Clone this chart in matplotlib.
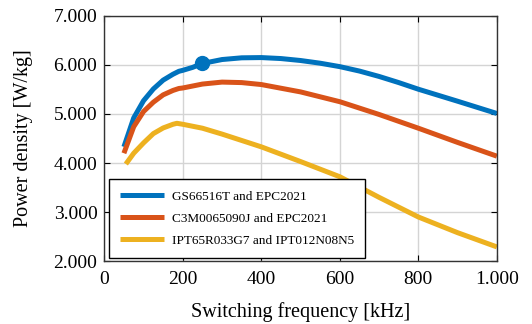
import matplotlib
matplotlib.use('Agg')
import matplotlib.pyplot as plt
from matplotlib.ticker import FuncFormatter

plt.rcParams['font.family'] = ['Liberation Serif', 'DejaVu Serif']
plt.rcParams['mathtext.fontset'] = 'stix'

# values (kHz, W/kg)
freq_gs = [50, 75, 100, 125, 150, 175, 190, 200, 225, 250, 300, 350, 400, 450, 500, 550, 600, 650, 700, 750, 800, 900, 1000]
pd_gs = [4330, 4920, 5270, 5510, 5690, 5810, 5870, 5890, 5950, 6030, 6110, 6145, 6150, 6130, 6090, 6035, 5965, 5875, 5765, 5640, 5505, 5260, 5010]

freq_c3m = [50, 75, 100, 125, 150, 175, 190, 200, 250, 300, 350, 400, 500, 600, 700, 800, 900, 1000]
pd_c3m = [4200, 4740, 5050, 5240, 5390, 5480, 5520, 5530, 5610, 5650, 5640, 5600, 5450, 5250, 4990, 4710, 4420, 4140]

freq_ipt = [55, 75, 100, 125, 150, 175, 185, 200, 250, 300, 400, 500, 600, 700, 800, 900, 1000]
pd_ipt = [3980, 4200, 4410, 4600, 4715, 4790, 4810, 4790, 4710, 4590, 4330, 4030, 3720, 3300, 2900, 2580, 2290]

marker_f = [250]
marker_pd = [6030]

labels = ['GS66516T and EPC2021', 'C3M0065090J and EPC2021', 'IPT65R033G7 and IPT012N08N5']
colors = ['#0072BD', '#D95319', '#EDB120']

fig = plt.figure(figsize=(5.32, 3.24), dpi=100)
ax = fig.add_axes([0.196, 0.194, 0.738, 0.757])

ax.plot(freq_gs, pd_gs, color=colors[0], lw=3.6, label=labels[0], solid_capstyle='butt')
ax.plot(freq_c3m, pd_c3m, color=colors[1], lw=3.6, label=labels[1], solid_capstyle='butt')
ax.plot(freq_ipt, pd_ipt, color=colors[2], lw=3.6, label=labels[2], solid_capstyle='butt')
ax.plot(marker_f, marker_pd, 'o', color=colors[0], ms=10)

ax.set_xlim(0, 1000)
ax.set_ylim(2000, 7000)
ax.set_xticks([0, 200, 400, 600, 800, 1000])
ax.set_yticks([2000, 3000, 4000, 5000, 6000, 7000])
thou = FuncFormatter(lambda v, p: '{:,.0f}'.format(v).replace(',', '.') if v >= 1000 else '{:.0f}'.format(v))
ax.xaxis.set_major_formatter(thou)
ax.yaxis.set_major_formatter(thou)
ax.tick_params(direction='in', labelsize=14, length=4, top=True, right=True)
ax.tick_params(axis='x', pad=7)
ax.tick_params(axis='y', pad=5)
ax.grid(True, color='#d4d4d4', lw=1)
ax.set_axisbelow(True)
for s in ax.spines.values():
    s.set_linewidth(1.0)
    s.set_color('#333333')

ax.set_xlabel('Switching frequency [kHz]', fontsize=14.5, labelpad=10)
ax.set_ylabel('Power density [W/kg]', fontsize=14.5, labelpad=15)

leg = ax.legend(loc='lower left', bbox_to_anchor=(0.012, 0.012), borderaxespad=0,
                fontsize=9.5, fancybox=False, edgecolor='black', framealpha=1,
                handlelength=3.3, handletextpad=0.6, borderpad=0.85, labelspacing=0.75)
leg.get_frame().set_linewidth(1.0)

fig.savefig('out.png', dpi=100)
